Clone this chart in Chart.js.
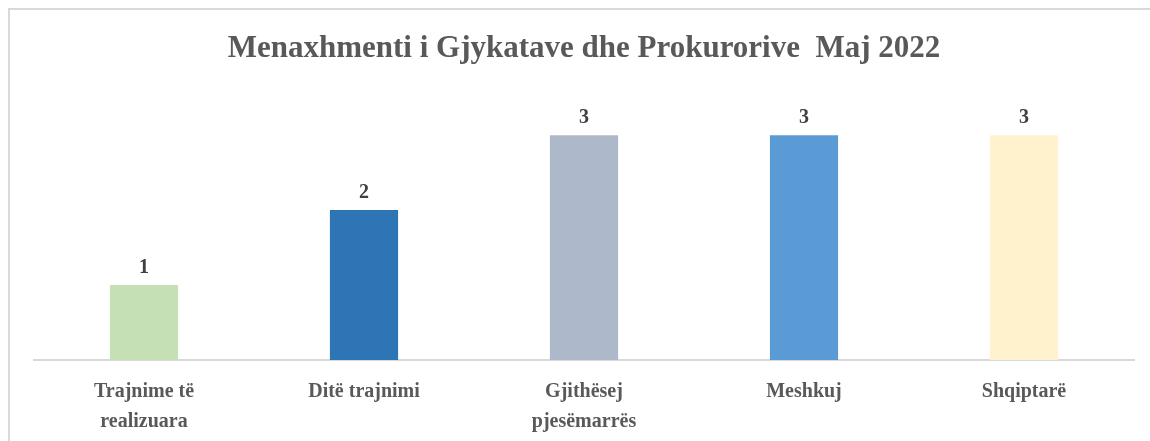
<!DOCTYPE html>
<html>
<head>
<meta charset="utf-8">
<script src="https://cdn.jsdelivr.net/npm/chart.js@4.4.1/dist/chart.umd.min.js"></script>
<style>
  html, body { margin: 0; padding: 0; background: #ffffff; overflow: hidden; }
  #wrap { position: absolute; left: 0; top: 0; width: 1150px; height: 441px; }
  #frame { position: absolute; left: 8px; top: 8px; width: 1160px; height: 460px;
           border-left: 2px solid #d9d9d9; border-top: 2px solid #d9d9d9; box-sizing: border-box; }
  canvas { position: absolute; left: 0; top: 0; }
</style>
</head>
<body>
<div id="wrap">
  <div id="frame"></div>
  <canvas id="c" width="1150" height="441"></canvas>
</div>
<script>
const titleText = "Menaxhmenti i Gjykatave dhe Prokurorive  Maj 2022";
const categories = [["Trajnime të", "realizuara"], "Ditë trajnimi", ["Gjithësej", "pjesëmarrës"], "Meshkuj", "Shqiptarë"];
const values = [1, 2, 3, 3, 3];
const barColors = ["#C5E0B4", "#2E75B6", "#ADB9CA", "#5B9BD5", "#FFF2CC"];

const valueLabels = {
  id: 'valueLabels',
  afterDatasetsDraw(chart) {
    const ctx = chart.ctx;
    const meta = chart.getDatasetMeta(0);
    ctx.save();
    ctx.font = 'bold 20px "Liberation Serif", "Times New Roman", serif';
    ctx.fillStyle = '#404040';
    ctx.textAlign = 'center';
    ctx.textBaseline = 'alphabetic';
    meta.data.forEach((bar, i) => {
      ctx.fillText(String(chart.data.datasets[0].data[i]), bar.x, bar.y - 12);
    });
    ctx.restore();
  }
};

new Chart(document.getElementById('c'), {
  type: 'bar',
  data: {
    labels: categories,
    datasets: [{
      data: values,
      backgroundColor: barColors,
      borderWidth: 0,
      categoryPercentage: 1,
      barPercentage: 0.31
    }]
  },
  options: {
    responsive: false,
    animation: false,
    devicePixelRatio: 1,
    layout: { padding: { left: 34, right: 16, top: 0, bottom: -13 } },
    plugins: {
      legend: { display: false },
      tooltip: { enabled: false },
      title: {
        display: true,
        text: titleText,
        color: '#595959',
        font: { family: '"Liberation Serif", "Times New Roman", serif', size: 31, weight: 'bold', lineHeight: 1.2 },
        padding: { top: 30, bottom: 23 }
      }
    },
    scales: {
      x: {
        grid: { display: false, drawTicks: false },
        border: { display: true, color: '#d9d9d9', width: 2 },
        ticks: {
          color: '#595959',
          padding: 17,
          maxRotation: 0,
          autoSkip: false,
          font: { family: '"Liberation Serif", "Times New Roman", serif', size: 20, weight: 'bold', lineHeight: 1.5 }
        }
      },
      y: {
        display: false,
        min: 0,
        max: 3.6
      }
    }
  },
  plugins: [valueLabels]
});
</script>
</body>
</html>
